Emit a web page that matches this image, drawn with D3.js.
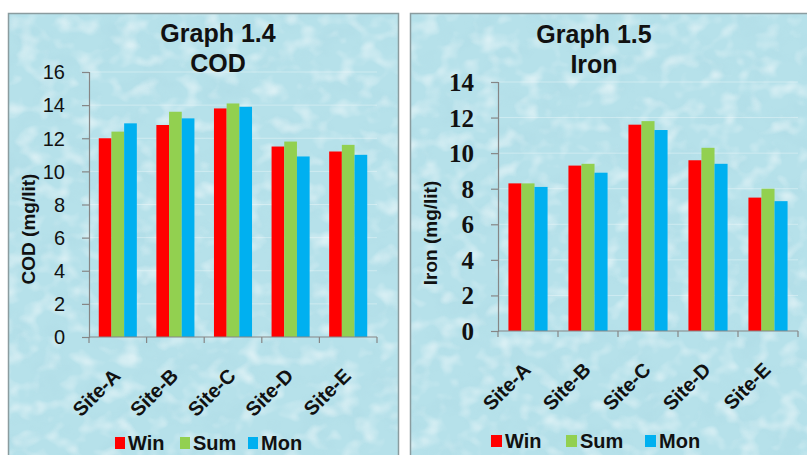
<!DOCTYPE html>
<html>
<head>
<meta charset="utf-8">
<script src="https://cdn.jsdelivr.net/npm/d3@7"></script>
<style>
  html, body { margin: 0; padding: 0; background: #ffffff; }
  svg { display: block; font-family: "Liberation Sans", Arial, sans-serif; }
</style>
</head>
<body>
<svg id="chart" width="807" height="455"></svg>
<script>
// ---- data ----
const sites = ["Site-A", "Site-B", "Site-C", "Site-D", "Site-E"];
const seasons = ["Win", "Sum", "Mon"];
const seasonColors = ["#ff0000", "#92d050", "#00b0f0"];

const codWin = [12.0, 12.8, 13.8, 11.5, 11.2];
const codSum = [12.4, 13.6, 14.1, 11.8, 11.6];
const codMon = [12.9, 13.2, 13.9, 10.9, 11.0];
const codTicks = [0, 2, 4, 6, 8, 10, 12, 14, 16];

const ironWin = [8.3, 9.3, 11.6, 9.6, 7.5];
const ironSum = [8.3, 9.4, 11.8, 10.3, 8.0];
const ironMon = [8.1, 8.9, 11.3, 9.4, 7.3];
const ironTicks = [0, 2, 4, 6, 8, 10, 12, 14];

const SANS = "'Liberation Sans', Arial, sans-serif";
const SERIF = "'Liberation Serif', 'Times New Roman', serif";

// ---- layout of the two panels ----
const panels = [
  {
    title: ["Graph 1.4", "COD"], yTitle: "COD (mg/lit)",
    series: [codWin, codSum, codMon], ticks: codTicks, yMax: 16,
    box: { x: 8, y: 13, w: 390, h: 460 },
    plot: { left: 89, right: 377, top: 72, bottom: 337 },
    titleX: 218, titleY: [42, 72],
    yTitleX: 28, yTitleY: 229,
    tickFont: { family: SANS, size: 20, weight: "normal" },
    labelGap: 24,
    legendX: [115, 180, 248], legendY: 450, swatch: { w: 10, h: 12 },
    groupPad: 0.77, seed: 3
  },
  {
    title: ["Graph 1.5", "Iron"], yTitle: "Iron (mg/lit)",
    series: [ironWin, ironSum, ironMon], ticks: ironTicks, yMax: 14,
    box: { x: 410, y: 13, w: 420, h: 460 },
    plot: { left: 498, right: 798, top: 82, bottom: 331 },
    titleX: 594, titleY: [43, 73],
    yTitleX: 430, yTitleY: 233,
    tickFont: { family: SERIF, size: 25, weight: "bold" },
    labelGap: 24,
    legendX: [491, 566, 645], legendY: 448, swatch: { w: 11, h: 12 },
    groupPad: 0.8, seed: 7
  }
];

const svg = d3.select("#chart");
const defs = svg.append("defs");

// water-drop texture: soft noise shading plus bright highlights
panels.forEach((p, i) => {
  const dark = defs.append("filter").attr("id", "shade" + i)
    .attr("x", 0).attr("y", 0).attr("width", 1).attr("height", 1);
  dark.append("feTurbulence").attr("type", "fractalNoise")
    .attr("baseFrequency", "0.03 0.04").attr("numOctaves", 3).attr("seed", p.seed);
  dark.append("feColorMatrix").attr("type", "matrix")
    .attr("values", "0 0 0 0 0.42  0 0 0 0 0.70  0 0 0 0 0.78  2.2 0 0 0 -1.05");

  const light = defs.append("filter").attr("id", "shine" + i)
    .attr("x", 0).attr("y", 0).attr("width", 1).attr("height", 1);
  light.append("feTurbulence").attr("type", "fractalNoise")
    .attr("baseFrequency", "0.05 0.06").attr("numOctaves", 2).attr("seed", p.seed + 11);
  light.append("feColorMatrix").attr("type", "matrix")
    .attr("values", "0 0 0 0 1  0 0 0 0 1  0 0 0 0 1  0 2.6 0 0 -1.25");

  defs.append("clipPath").attr("id", "clip" + i)
    .append("rect").attr("x", p.box.x).attr("y", p.box.y)
    .attr("width", p.box.w).attr("height", p.box.h);
});

panels.forEach((p, i) => {
  const g = svg.append("g");

  // panel background
  const bg = g.append("g").attr("clip-path", `url(#clip${i})`);
  bg.append("rect").attr("x", p.box.x).attr("y", p.box.y)
    .attr("width", p.box.w).attr("height", p.box.h).attr("fill", "#b6e1ea");
  bg.append("rect").attr("x", p.box.x).attr("y", p.box.y)
    .attr("width", p.box.w).attr("height", p.box.h)
    .attr("filter", `url(#shade${i})`).attr("opacity", 0.5);
  bg.append("rect").attr("x", p.box.x).attr("y", p.box.y)
    .attr("width", p.box.w).attr("height", p.box.h)
    .attr("filter", `url(#shine${i})`).attr("opacity", 0.5);
  g.append("rect").attr("x", p.box.x + 0.5).attr("y", p.box.y + 0.5)
    .attr("width", p.box.w).attr("height", p.box.h)
    .attr("fill", "none").attr("stroke", "#8a9c9f").attr("stroke-width", 1.5);

  // scales
  const x0 = d3.scaleBand().domain(sites).range([p.plot.left, p.plot.right])
    .paddingInner(0).paddingOuter(0);
  const x1 = d3.scaleBand().domain(seasons).range([0, x0.bandwidth()])
    .paddingInner(0).paddingOuter(p.groupPad);
  const y = d3.scaleLinear().domain([0, p.yMax]).range([p.plot.bottom, p.plot.top]);

  // faint gridlines
  g.append("g").selectAll("line").data(p.ticks.filter(t => t > 0)).join("line")
    .attr("x1", p.plot.left).attr("x2", p.plot.right)
    .attr("y1", d => y(d)).attr("y2", d => y(d))
    .attr("stroke", "#ffffff").attr("stroke-opacity", 0.35).attr("stroke-width", 1);

  // bars
  const rows = sites.map((s, k) => ({ site: s, vals: seasons.map((se, j) => ({ se, v: p.series[j][k], c: seasonColors[j] })) }));
  g.append("g").selectAll("g").data(rows).join("g")
    .attr("transform", d => `translate(${x0(d.site)},0)`)
    .selectAll("rect").data(d => d.vals).join("rect")
    .attr("x", d => x1(d.se)).attr("width", x1.bandwidth())
    .attr("y", d => y(d.v)).attr("height", d => y(0) - y(d.v))
    .attr("fill", d => d.c);

  // y axis
  const yAxis = d3.axisLeft(y).tickValues(p.ticks).tickSize(7).tickPadding(p.labelGap - 7)
    .tickFormat(d3.format("d"));
  const ya = g.append("g").attr("transform", `translate(${p.plot.left},0)`).call(yAxis);
  ya.attr("font-family", null).attr("font-size", null);
  ya.select(".domain").attr("stroke", "#868686").attr("stroke-width", 1.2);
  ya.selectAll(".tick line").attr("stroke", "#868686").attr("stroke-width", 1.2);
  ya.selectAll(".tick text")
    .style("font-family", p.tickFont.family).style("font-size", p.tickFont.size + "px")
    .style("font-weight", p.tickFont.weight).attr("fill", "#111").attr("dy", "0.34em");

  // x axis: line with ticks on category boundaries
  const xa = g.append("g").attr("transform", `translate(0,${p.plot.bottom})`);
  xa.append("line").attr("x1", p.plot.left).attr("x2", p.plot.right)
    .attr("stroke", "#868686").attr("stroke-width", 1.2);
  const bounds = sites.map(s => x0(s)).concat([x0(sites[sites.length - 1]) + x0.bandwidth()]);
  xa.selectAll("line.b").data(bounds).join("line").attr("class", "b")
    .attr("x1", d => d).attr("x2", d => d).attr("y1", 0).attr("y2", 6)
    .attr("stroke", "#868686").attr("stroke-width", 1.2);
  xa.selectAll("text").data(sites).join("text")
    .attr("transform", d => `translate(${x0(d) + x0.bandwidth() / 2 + 4},40) rotate(-45)`)
    .attr("text-anchor", "end").attr("fill", "#111")
    .style("font-family", SANS).style("font-weight", "bold").style("font-size", "20px")
    .text(d => d);

  // titles
  [0, 1].forEach(k => {
    g.append("text").attr("x", p.titleX).attr("y", p.titleY[k])
      .attr("text-anchor", "middle").attr("fill", "#111")
      .style("font-weight", "bold").style("font-size", "25px")
      .text(p.title[k]);
  });
  g.append("text")
    .attr("transform", `translate(${p.yTitleX},${p.yTitleY}) rotate(-90)`)
    .attr("text-anchor", "middle").attr("dy", "0.35em").attr("fill", "#111")
    .style("font-weight", "bold").style("font-size", "19px")
    .text(p.yTitle);

  // legend
  const lg = g.append("g").selectAll("g").data(seasons).join("g")
    .attr("transform", (d, j) => `translate(${p.legendX[j]},${p.legendY})`);
  lg.append("rect").attr("x", 0).attr("y", -p.swatch.h - 1)
    .attr("width", p.swatch.w).attr("height", p.swatch.h)
    .attr("fill", (d, j) => seasonColors[j]);
  lg.append("text").attr("x", p.swatch.w + 3).attr("y", 0).attr("fill", "#111")
    .style("font-weight", "bold").style("font-size", "20px").text(d => d);
});
</script>
</body>
</html>
